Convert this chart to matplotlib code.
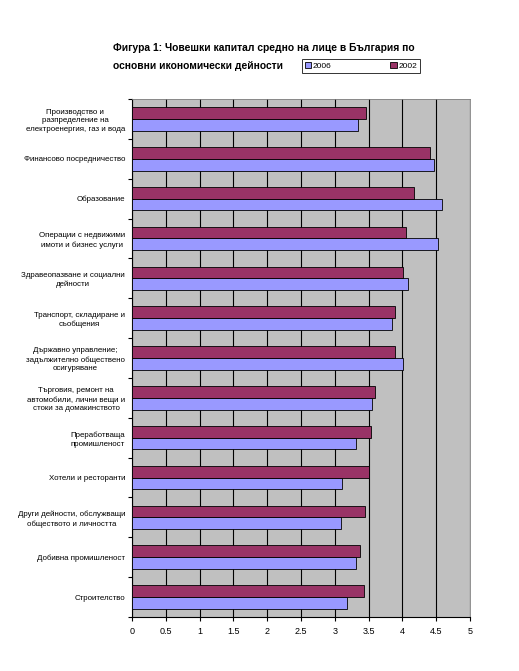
import numpy as np
import matplotlib.pyplot as plt

plt.rcParams['font.family'] = ['Liberation Sans', 'DejaVu Sans']

categories = [
    "Производство и\nразпределение на\nелектроенергия, газ и вода",
    "Финансово посредничество",
    "Образование",
    "Операции с недвижими\nимоти и бизнес услуги",
    "Здравеопазване и социални\nдейности",
    "Транспорт, складиране и\nсъобщения",
    "Държавно управление;\nзадължително обществено\nосигуряване",
    "Търговия, ремонт на\nавтомобили, лични вещи и\nстоки за домакинството",
    "Преработваща\nпромишленост",
    "Хотели и ресторанти",
    "Други дейности, обслужващи\nобществото и личността",
    "Добивна промишленост",
    "Строителство",
]
values_2006 = [3.34, 4.47, 4.59, 4.52, 4.09, 3.85, 4.01, 3.55, 3.32, 3.10, 3.09, 3.32, 3.18]
values_2002 = [3.46, 4.41, 4.17, 4.06, 4.01, 3.89, 3.89, 3.60, 3.53, 3.50, 3.45, 3.37, 3.43]
x_ticks = [0, 0.5, 1, 1.5, 2, 2.5, 3, 3.5, 4, 4.5, 5]
x_ticklabels = ["0", "0.5", "1", "1.5", "2", "2.5", "3", "3.5", "4", "4.5", "5"]

fig = plt.figure(figsize=(5.19, 6.71), dpi=100)
ax = fig.add_axes([132 / 519, 1 - 617 / 671, 338 / 519, 518 / 671])
ax.set_facecolor("#C0C0C0")

n = len(categories)
y = np.arange(n)
h = 0.295
b2006 = ax.barh(y + h / 2, values_2006, height=h, color="#9999FF",
                edgecolor="black", linewidth=0.6, label="2006", zorder=3)
b2002 = ax.barh(y - h / 2, values_2002, height=h, color="#993366",
                edgecolor="black", linewidth=0.6, label="2002", zorder=3)

ax.set_xlim(0, 5)
ax.set_ylim(n - 0.5, -0.5)
ax.set_xticks(x_ticks)
ax.set_xticklabels(x_ticklabels, fontsize=6.5)
ax.xaxis.grid(True, color="black", linewidth=0.8, zorder=1)
ax.set_axisbelow(True)

ax.set_yticks(y)
ax.set_yticklabels(categories, fontsize=5.7, ha="right", multialignment="center",
                   linespacing=1.35)
ax.tick_params(axis="y", length=0, pad=5)
ax.set_yticks(np.arange(n + 1) - 0.5, minor=True)
ax.tick_params(axis="y", which="minor", length=3, direction="out", width=0.8)
ax.tick_params(axis="x", length=3, direction="out", width=0.8, pad=4)

for s in ["left", "bottom"]:
    ax.spines[s].set_color("black")
    ax.spines[s].set_linewidth(0.8)
for s in ["top", "right"]:
    ax.spines[s].set_color("#808080")
    ax.spines[s].set_linewidth(0.6)

fig.text(113 / 519, 1 - 48 / 671, "Фигура 1: Човешки капитал средно на лице в България по",
         fontsize=7.35, fontweight="bold", va="center", ha="left")
fig.text(113 / 519, 1 - 66 / 671, "основни икономически дейности",
         fontsize=7.35, fontweight="bold", va="center", ha="left")

leg = fig.legend(handles=[b2006, b2002], labels=["2006", "2002"], ncol=2,
                 loc="center", bbox_to_anchor=(361 / 519, 1 - 66 / 671),
                 fontsize=6, frameon=True, fancybox=False, edgecolor="black",
                 handlelength=0.8, handleheight=0.8, columnspacing=7.0,
                 handletextpad=0.2, borderpad=0.35, borderaxespad=0)
leg.get_frame().set_linewidth(0.7)

fig.savefig("out.png", dpi=100)
